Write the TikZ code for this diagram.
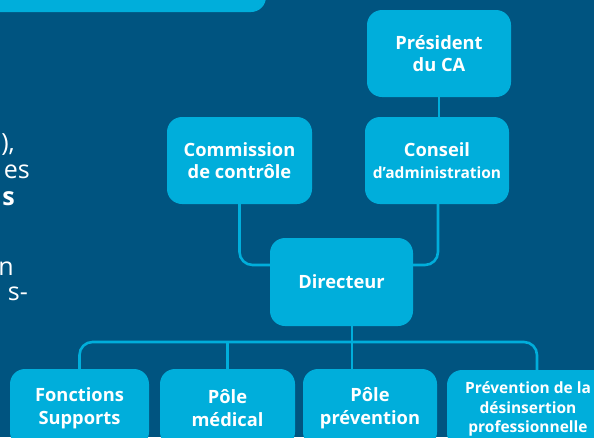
\documentclass[tikz,border=0pt]{standalone}
\usepackage{fontspec}
\setmainfont{Open Sans}
\definecolor{bgblue}{HTML}{005480}
\definecolor{lightblue}{HTML}{00AEDB}
\begin{document}
\begin{tikzpicture}[x=1pt,y=-1pt,
  box/.style={fill=lightblue, rounded corners=15pt, text=white,
    font=\bfseries\fontsize{18.3}{22.5}\selectfont, align=center, inner sep=0pt},
  smallbox/.style={box, font=\bfseries\fontsize{15.5}{19.5}\selectfont},
  conn/.style={draw=lightblue, line width=2.6pt},
  side/.style={text=white, font=\fontsize{25}{28}\selectfont, inner sep=0pt, anchor=base east}]
\fill[bgblue] (0,0) rectangle (594,437);
\useasboundingbox (0,0) rectangle (594,437);
\clip (0,0) rectangle (594,437);
\fill[lightblue, rounded corners=15pt] (-30,-30) rectangle (266,12);

\node[box, minimum width=144pt, minimum height=87pt] (pres) at (439,53.5) {Président\\du CA};
\node[box, minimum width=144pt, minimum height=87pt] (cons) at (437,160.5) {Conseil\\{\fontsize{15.5}{20}\selectfont d’administration}};
\node[box, minimum width=145pt, minimum height=87pt] (comm) at (239.5,160.5) {Commission\\de contrôle};
\node[box, minimum width=143pt, minimum height=88pt] (dir) at (341.5,282) {Directeur};
\node[box, minimum width=139pt, minimum height=78pt] (fonc) at (79.5,408) {Fonctions\\Supports};
\node[box, minimum width=135pt, minimum height=78pt] (med) at (227.5,408) {Pôle\\médical};
\node[box, minimum width=134pt, minimum height=78pt] (prev) at (370,408) {Pôle\\prévention};
\node[smallbox, minimum width=162pt, minimum height=78pt] (desins) at (528,409) {Prévention de la\\désinsertion\\professionnelle};

\draw[conn] (pres.south) -- (pres.south |- cons.north);
\draw[conn, rounded corners=13pt] (comm.south) |- ([yshift=17pt]dir.west);
\draw[conn, rounded corners=13pt] ([xshift=1pt]cons.south) |- ([yshift=17pt]dir.east);
\draw[conn] ([xshift=10.5pt]dir.south) -- ([xshift=10.5pt]dir.south |- prev.north);
\coordinate (barR) at ([xshift=9pt]desins.north);
\draw[conn, rounded corners=13pt] (fonc.north) -- (fonc.north |- 0,342) -- (barR |- 0,342) -- (barR);
\draw[conn] (med.north) -- (med.north |- 0,342);

\node[side] (t1) at (15,151) {),};
\node[side] (t2) at (30,178) {es};
\node[side, font=\bfseries\fontsize{25}{28}\selectfont] (t3) at (15,205) {s};
\node[side] (t4) at (14,275) {n};
\node[side] (t5) at (28,300) {s-};
\end{tikzpicture}
\end{document}
